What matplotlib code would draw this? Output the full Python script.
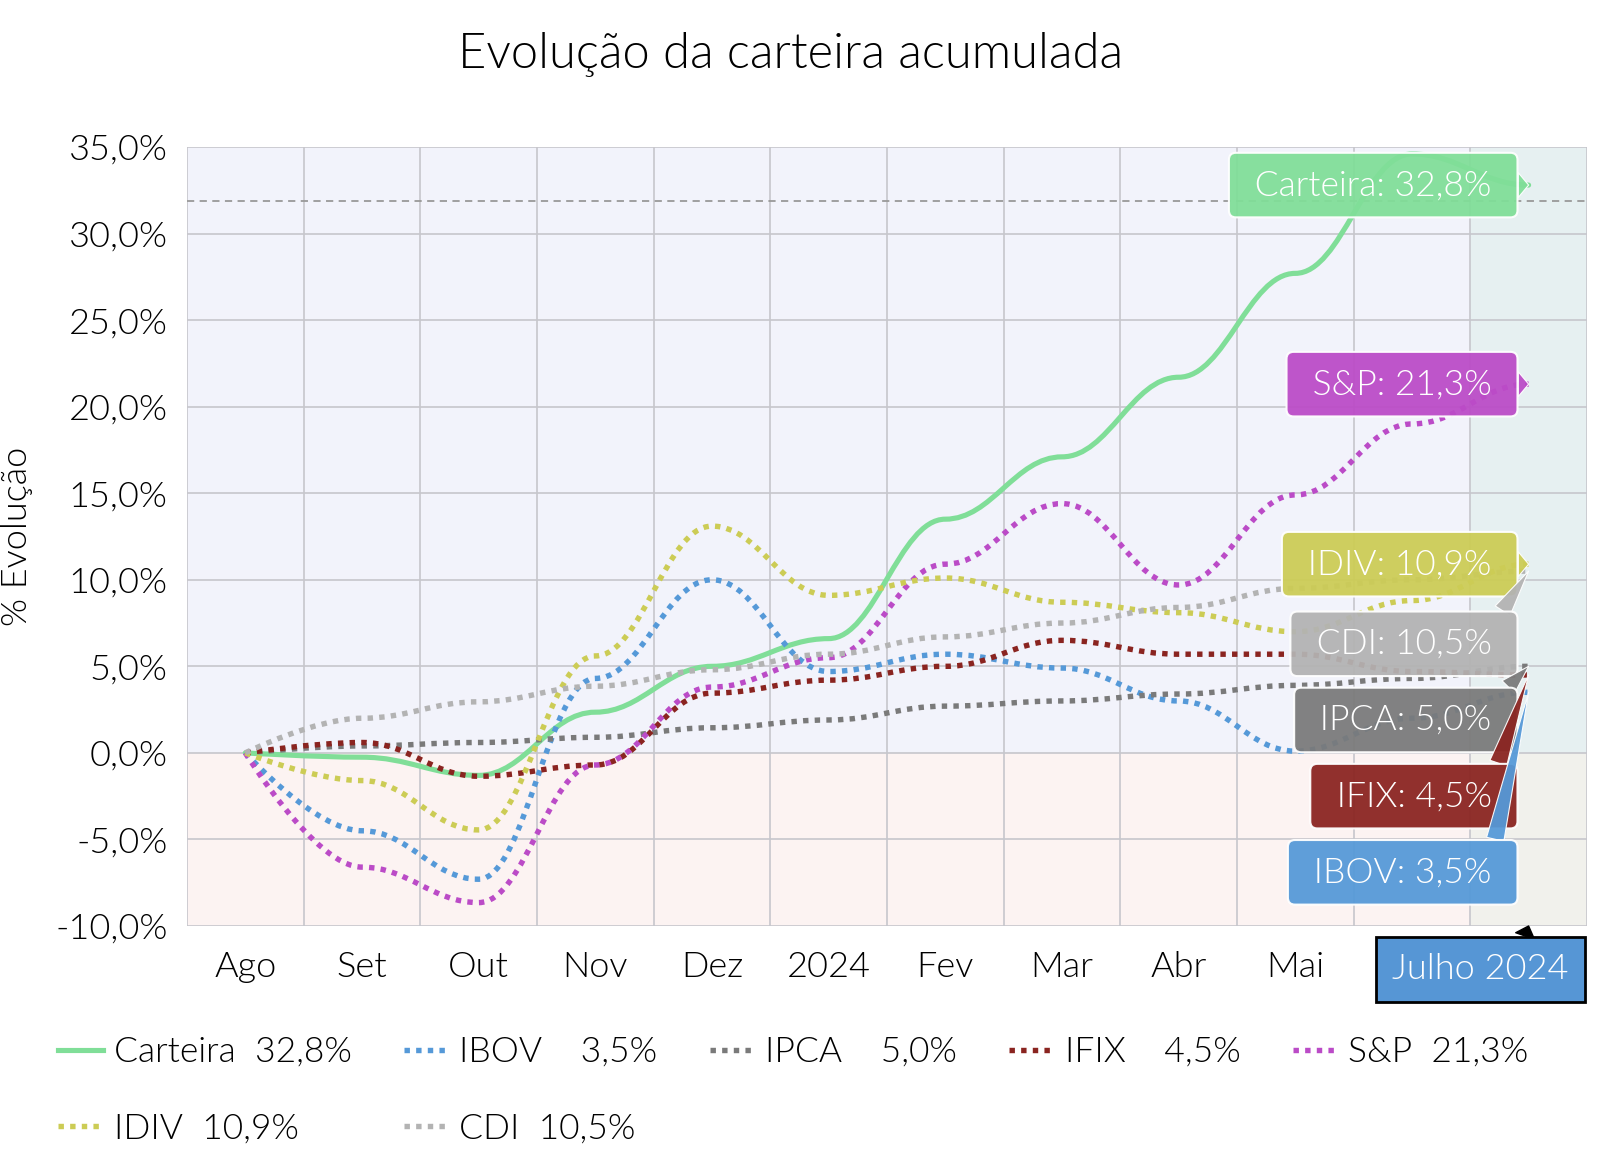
import numpy as np
import matplotlib
matplotlib.use('Agg')
import matplotlib.pyplot as plt
from matplotlib import font_manager as fm
from matplotlib.path import Path
from matplotlib.patches import PathPatch
from matplotlib.lines import Line2D

plt.rcParams['font.family'] = ['Lato', 'DejaVu Sans']

months = ['Ago', 'Set', 'Out', 'Nov', 'Dez', '2024', 'Fev', 'Mar', 'Abr', 'Mai', 'Jun', 'Jul']
carteira = [0, -0.25, -1.3, 2.35, 5.0, 6.6, 13.5, 17.1, 21.7, 27.7, 34.6, 32.8]
ibov = [0, -4.5, -7.3, 4.3, 10.0, 4.7, 5.7, 4.9, 3.0, 0.1, 2.0, 3.5]
ipca = [0, 0.4, 0.6, 0.9, 1.45, 1.9, 2.7, 3.0, 3.4, 3.9, 4.3, 5.0]
ifix = [0, 0.6, -1.35, -0.7, 3.45, 4.2, 5.0, 6.5, 5.7, 5.7, 4.7, 4.5]
sp = [0, -6.6, -8.65, -0.7, 3.8, 5.5, 10.9, 14.4, 9.7, 14.9, 19.0, 21.3]
idiv = [0, -1.6, -4.45, 5.6, 13.1, 9.1, 10.1, 8.7, 8.1, 7.0, 8.8, 10.9]
cdi = [0, 2.0, 2.95, 3.85, 4.8, 5.7, 6.7, 7.5, 8.4, 9.5, 10.0, 10.5]

names = ['Carteira', 'IBOV', 'IPCA', 'IFIX', 'S&P', 'IDIV', 'CDI']
series = [carteira, ibov, ipca, ifix, sp, idiv, cdi]
colors = ['#80de98', '#5599d8', '#7a7a7a', '#8a2420', '#bb4bc7', '#cccc55', '#b3b3b3']
legend_labels = ['Carteira  32,8%', 'IBOV    3,5%', 'IPCA    5,0%', 'IFIX    4,5%',
                 'S&P  21,3%', 'IDIV  10,9%', 'CDI  10,5%']
tip_labels = ['Carteira: 32,8%', 'IBOV: 3,5%', 'IPCA: 5,0%', 'IFIX: 4,5%',
              'S&P: 21,3%', 'IDIV: 10,9%', 'CDI: 10,5%']
# vertical centre of each tooltip box (None = on the point itself)
tip_y = [None, -6.9, 1.9, -2.5, None, None, 6.3]

FS = 26

# matplotlib's 'light' lands on Lato-Thin here, so pick the Light file by hand
light_file = None
for f in fm.fontManager.ttflist:
    if f.fname.endswith('Lato-Light.ttf'):
        light_file = f.fname
        break


def font(size):
    if light_file:
        return fm.FontProperties(fname=light_file, size=size)
    return fm.FontProperties(family='Lato', size=size)


def spline_path(ys, k=0.4):
    # smooth curve, flat at every point except the first
    ys = np.asarray(ys, dtype=float)
    verts = [(0, ys[0])]
    codes = [Path.MOVETO]
    for i in range(1, len(ys)):
        c1 = (i - 1 + (k if i > 1 else 0), ys[i - 1])
        c2 = (i - k, ys[i])
        verts += [c1, c2, (i, ys[i])]
        codes += [Path.CURVE4] * 3
    return Path(verts, codes)


fig = plt.figure(figsize=(16.19, 11.52), dpi=100)
ax = fig.add_axes([0.1155, 0.1962, 0.8647, 0.6762])

x = np.arange(len(months))
ax.set_xlim(-0.5, len(months) - 0.5)
ax.set_ylim(-10, 35)

# backgrounds
ax.axhspan(0, 35, color='#f2f3fb', zorder=0)
ax.axhspan(-10, 0, color='#fcf3f2', zorder=0)
zf = 10 / 45
ax.axvspan(10.5, 11.5, ymin=zf, ymax=1, color='#e6f0f1', zorder=0.1, lw=0)
ax.axvspan(10.5, 11.5, ymin=0, ymax=zf, color='#f1f1ec', zorder=0.1, lw=0)

ax.set_axisbelow(True)
yt = np.arange(-10, 36, 5)
ax.set_yticks(yt)
ax.set_yticklabels([('%.1f%%' % v).replace('.', ',') for v in yt], fontproperties=font(FS))
ax.set_xticks(x)
ax.set_xticklabels(months, fontproperties=font(FS))
# Jun / Jul sit under the crosshair label
for lab in ax.get_xticklabels()[-2:]:
    lab.set_visible(False)
ax.set_xticks(np.arange(-0.5, len(months), 1), minor=True)
ax.grid(True, axis='y', color='#c6c6cc', lw=1.2)
ax.grid(True, axis='x', which='minor', color='#c6c6cc', lw=1.2)
ax.tick_params(axis='both', which='both', length=0, colors='black')
ax.tick_params(axis='y', pad=14)
ax.tick_params(axis='x', pad=18)
for s in ax.spines.values():
    s.set_visible(False)

ax.axhline(31.9, color='#999999', lw=1.3, ls=(0, (4, 3)), zorder=2)

for i, (ys, c) in enumerate(zip(series, colors)):
    p = PathPatch(spline_path(ys), fill=False, ec=c, zorder=3 + i * 0.01)
    if i == 0:
        p.set_linewidth(3.7)
        p.set_capstyle('round')
    else:
        p.set_linewidth(3.9)
        p.set_linestyle((0, (1, 1.15)))
        p.set_capstyle('butt')
    ax.add_patch(p)

# tooltips at the last point
for i in [0, 4, 5, 6, 2, 3, 1]:
    ys = series[i]
    yv = ys[-1]
    if tip_y[i] is None:
        ty, rel, tw = yv, (1, 0.5), 0.7
    else:
        ty, rel, tw = tip_y[i], (0.95, 1), 0.5
    ax.annotate(' ' + tip_labels[i] + ' ', xy=(11, yv), xytext=(10.765, ty),
                ha='right', va='center', fontproperties=font(25.5), color='white',
                annotation_clip=False, zorder=10,
                bbox=dict(boxstyle='round,pad=0.46,rounding_size=0.2', fc=colors[i],
                          ec='white', lw=1.5, alpha=0.94),
                arrowprops=dict(arrowstyle='wedge,tail_width=%s' % tw, fc=colors[i],
                                ec='white', lw=0.8, alpha=0.94, relpos=rel,
                                shrinkA=0, shrinkB=0))

# month crosshair label
ax.annotate('Julho 2024', xy=(11, -10), xytext=(10.585, -12.5),
            ha='center', va='center', fontproperties=font(FS), color='white',
            annotation_clip=False, zorder=12,
            bbox=dict(boxstyle='square,pad=0.45', fc='#5696d5', ec='black', lw=2),
            arrowprops=dict(arrowstyle='wedge,tail_width=0.55', fc='black', ec='black',
                            relpos=(0.72, 1), shrinkA=0, shrinkB=0))

fig.text(0.4886, 0.9525, 'Evolução da carteira acumulada', ha='center', va='center',
         fontproperties=font(35.2))
fig.text(0.0105, 0.534, '% Evolução', rotation=90, ha='center', va='center',
         fontproperties=font(FS))

handles = []
for i, c in enumerate(colors):
    if i == 0:
        handles.append(Line2D([], [], color=c, lw=3.7))
    else:
        handles.append(Line2D([], [], color=c, lw=3.9, ls=(0, (1, 1.15))))
order = [0, 5, 1, 6, 2, 3, 4]
fig.legend([handles[k] for k in order], [legend_labels[k] for k in order],
           loc='upper left', bbox_to_anchor=(0.036, 0.1007), ncol=5, frameon=False,
           prop=font(25.5), handlelength=1.27, handletextpad=0.3, columnspacing=1.47,
           labelspacing=1.25, borderpad=0, borderaxespad=0)

fig.savefig('out.png', dpi=100)
